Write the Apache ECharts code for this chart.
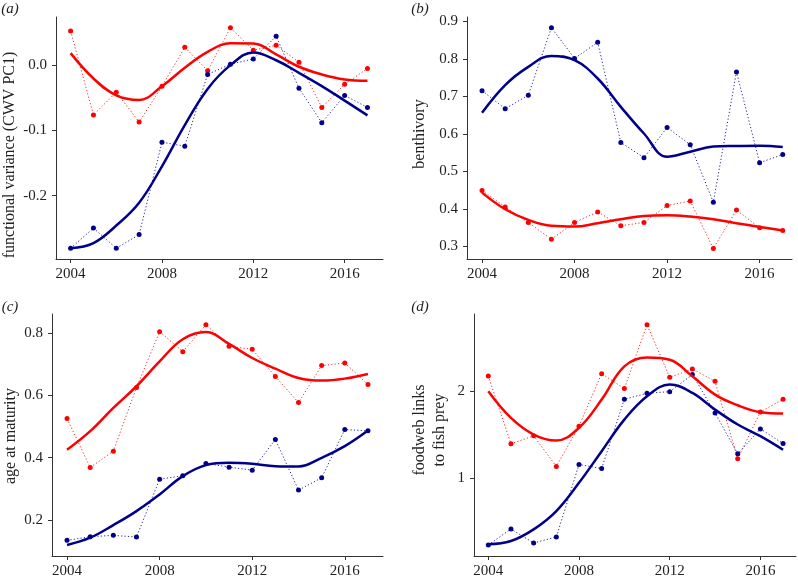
<!DOCTYPE html>
<html>
<head>
<meta charset="utf-8">
<script src="https://cdn.jsdelivr.net/npm/echarts@6/dist/echarts.min.js"></script>
<style>html,body{margin:0;padding:0;background:#fff}#c{width:798px;height:579px}</style>
</head>
<body>
<div id="c"></div>
<script>
// ---------- data ----------
const years = [2004, 2005, 2006, 2007, 2008, 2009, 2010, 2011, 2012, 2013, 2014, 2015, 2016, 2017];
const xTicks = [2004, 2008, 2012, 2016];

// (a) functional variance (CWV PC1)
const aRed     = [0.053, -0.076, -0.041, -0.087, -0.032, 0.028, -0.008, 0.058, 0.0235, 0.031, 0.005, -0.0645, -0.029, -0.0046];
const aBlue    = [-0.281, -0.250, -0.281, -0.260, -0.118, -0.124, -0.0138, 0.002, 0.010, 0.045, -0.035, -0.088, -0.046, -0.0645];
const aRedFit  = [0.019, -0.020, -0.046, -0.053, -0.032, -0.0036, 0.021, 0.034, 0.0338, 0.017, -0.002, -0.0138, -0.0215, -0.0235];
const aBlueFit = [-0.281, -0.273, -0.246, -0.211, -0.155, -0.0916, -0.036, 0.0005, 0.020, 0.008, -0.0113, -0.0317, -0.054, -0.0767];
const aTicks   = [-0.2, -0.1, 0.0];

// (b) benthivory
const bBlue    = [0.715, 0.667, 0.703, 0.883, 0.801, 0.844, 0.577, 0.5365, 0.617, 0.571, 0.418, 0.765, 0.523, 0.545];
const bRed     = [0.449, 0.405, 0.364, 0.319, 0.364, 0.392, 0.355, 0.364, 0.409, 0.421, 0.2945, 0.397, 0.3495, 0.3424];
const bBlueFit = [0.656, 0.730, 0.7785, 0.8078, 0.7963, 0.7475, 0.672, 0.601, 0.539, 0.5525, 0.566, 0.5676, 0.5685, 0.565];
const bRedFit  = [0.4434, 0.399, 0.3707, 0.3548, 0.353, 0.362, 0.3725, 0.3814, 0.3832, 0.3796, 0.3725, 0.3619, 0.352, 0.3424];
const bTicks   = [0.3, 0.4, 0.5, 0.6, 0.7, 0.8, 0.9];

// (c) age at maturity
const cRed     = [0.5256, 0.3686, 0.4209, 0.6249, 0.8043, 0.7402, 0.8267, 0.7573, 0.7477, 0.6601, 0.5768, 0.6954, 0.7039, 0.6345];
const cBlue    = [0.1348, 0.1465, 0.1508, 0.1455, 0.3312, 0.3419, 0.3814, 0.3697, 0.3601, 0.4583, 0.296, 0.3355, 0.4903, 0.4861];
const cRedFit  = [0.4252, 0.485, 0.5597, 0.6292, 0.7092, 0.780, 0.803, 0.765, 0.7199, 0.6857, 0.6558, 0.6473, 0.6537, 0.6687];
const cBlueFit = [0.1198, 0.1433, 0.1839, 0.2287, 0.2821, 0.3409, 0.3761, 0.3836, 0.3804, 0.3729, 0.3718, 0.3996, 0.437, 0.4871];
const cTicks   = [0.2, 0.4, 0.6, 0.8];

// (d) foodweb links to fish prey
const dRed     = [2.176, 1.395, 1.487, 1.134, 1.598, 2.203, 2.031, 2.766, 2.161, 2.257, 2.115, 1.222, 1.762, 1.908];
const dBlue    = [0.230, 0.414, 0.253, 0.322, 1.157, 1.111, 1.908, 1.977, 1.996, 2.192, 1.751, 1.280, 1.567, 1.398];
const dRedFit  = [2.0, 1.693, 1.502, 1.433, 1.579, 1.904, 2.287, 2.39, 2.364, 2.172, 1.962, 1.839, 1.759, 1.743];
const dBlueFit = [0.238, 0.276, 0.41, 0.621, 0.946, 1.31, 1.674, 1.943, 2.077, 1.981, 1.789, 1.617, 1.483, 1.326];
const dTicks   = [1, 2];

// ---------- layout ----------
const RED = '#ff0000', BLUE = '#00008b';
const FONT = '"Liberation Serif", "DejaVu Serif", serif';
const panels = [
  {grid: {left: 56, top: 17, width: 327, height: 242}, xr: [2003.36, 2017.68], yr: [-0.2975, 0.0745], ticks: aTicks, dec: 1,
   red: aRed, blue: aBlue, redFit: aRedFit, blueFit: aBlueFit},
  {grid: {left: 467, top: 17, width: 325, height: 242}, xr: [2003.35, 2017.4], yr: [0.2665, 0.9114], ticks: bTicks, dec: 1,
   red: bRed, blue: bBlue, redFit: bRedFit, blueFit: bBlueFit},
  {grid: {left: 52, top: 314, width: 331, height: 243}, xr: [2003.35, 2017.65], yr: [0.0846, 0.861], ticks: cTicks, dec: 1,
   red: cRed, blue: cBlue, redFit: cRedFit, blueFit: cBlueFit},
  {grid: {left: 474, top: 314, width: 322, height: 243}, xr: [2003.37, 2017.57], yr: [0.103, 2.89], ticks: dTicks, dec: 0,
   red: dRed, blue: dBlue, redFit: dRedFit, blueFit: dBlueFit}
];

const zip = v => years.map((y, i) => [y, v[i]]);
const axisLine = {show: true, onZero: false, lineStyle: {color: '#333', width: 1}};
const tick = vals => ({show: true, inside: false, length: 4, customValues: vals, lineStyle: {color: '#333', width: 1}});

const grid = [], xAxis = [], yAxis = [], series = [];
panels.forEach((p, k) => {
  grid.push(p.grid);
  xAxis.push({type: 'value', gridIndex: k, min: p.xr[0], max: p.xr[1], axisLine, splitLine: {show: false},
    axisTick: tick(xTicks),
    axisLabel: {customValues: xTicks, margin: 8, fontFamily: FONT, fontSize: 15, color: '#222', formatter: v => String(v)}});
  yAxis.push({type: 'value', gridIndex: k, min: p.yr[0], max: p.yr[1], axisLine, splitLine: {show: false},
    axisTick: tick(p.ticks),
    axisLabel: {customValues: p.ticks, margin: 9, fontFamily: FONT, fontSize: 15, color: '#222', formatter: v => Number(v).toFixed(p.dec)}});
  const dotted = (d, c) => ({type: 'line', xAxisIndex: k, yAxisIndex: k, data: zip(d), symbol: 'circle', symbolSize: 5,
    itemStyle: {color: c}, lineStyle: {color: c, width: 1, type: [1.2, 2.2], opacity: 0.85}, silent: true, animation: false, z: 2});
  const fit = (d, c) => ({type: 'line', xAxisIndex: k, yAxisIndex: k, data: zip(d), symbol: 'none', smooth: 0.4,
    lineStyle: {color: c, width: 2.5}, silent: true, animation: false, z: 3});
  series.push(dotted(p.red, RED), dotted(p.blue, BLUE), fit(p.redFit, RED), fit(p.blueFit, BLUE));
});

const vtext = (x, y, text) => ({type: 'text', x, y, rotation: Math.PI / 2,
  style: {text, font: '16px ' + FONT, fill: '#222', align: 'center', verticalAlign: 'middle'}});
const plabel = (x, y, text) => ({type: 'text', x, y,
  style: {text, font: 'italic 15px ' + FONT, fill: '#222', align: 'center', verticalAlign: 'middle'}});

const graphic = [
  plabel(10, 9, '(a)'), plabel(420, 9, '(b)'), plabel(10, 307, '(c)'), plabel(420, 307, '(d)'),
  vtext(10, 155, 'functional variance (CWV PC1)'),
  vtext(420, 134, 'benthivory'),
  vtext(11, 436, 'age at maturity'),
  vtext(420, 430, 'foodweb links'),
  vtext(440, 430, 'to fish prey')
];

const chart = echarts.init(document.getElementById('c'), null, {renderer: 'canvas'});
chart.setOption({animation: false, backgroundColor: '#fff', grid, xAxis, yAxis, series, graphic});
</script>
</body>
</html>
